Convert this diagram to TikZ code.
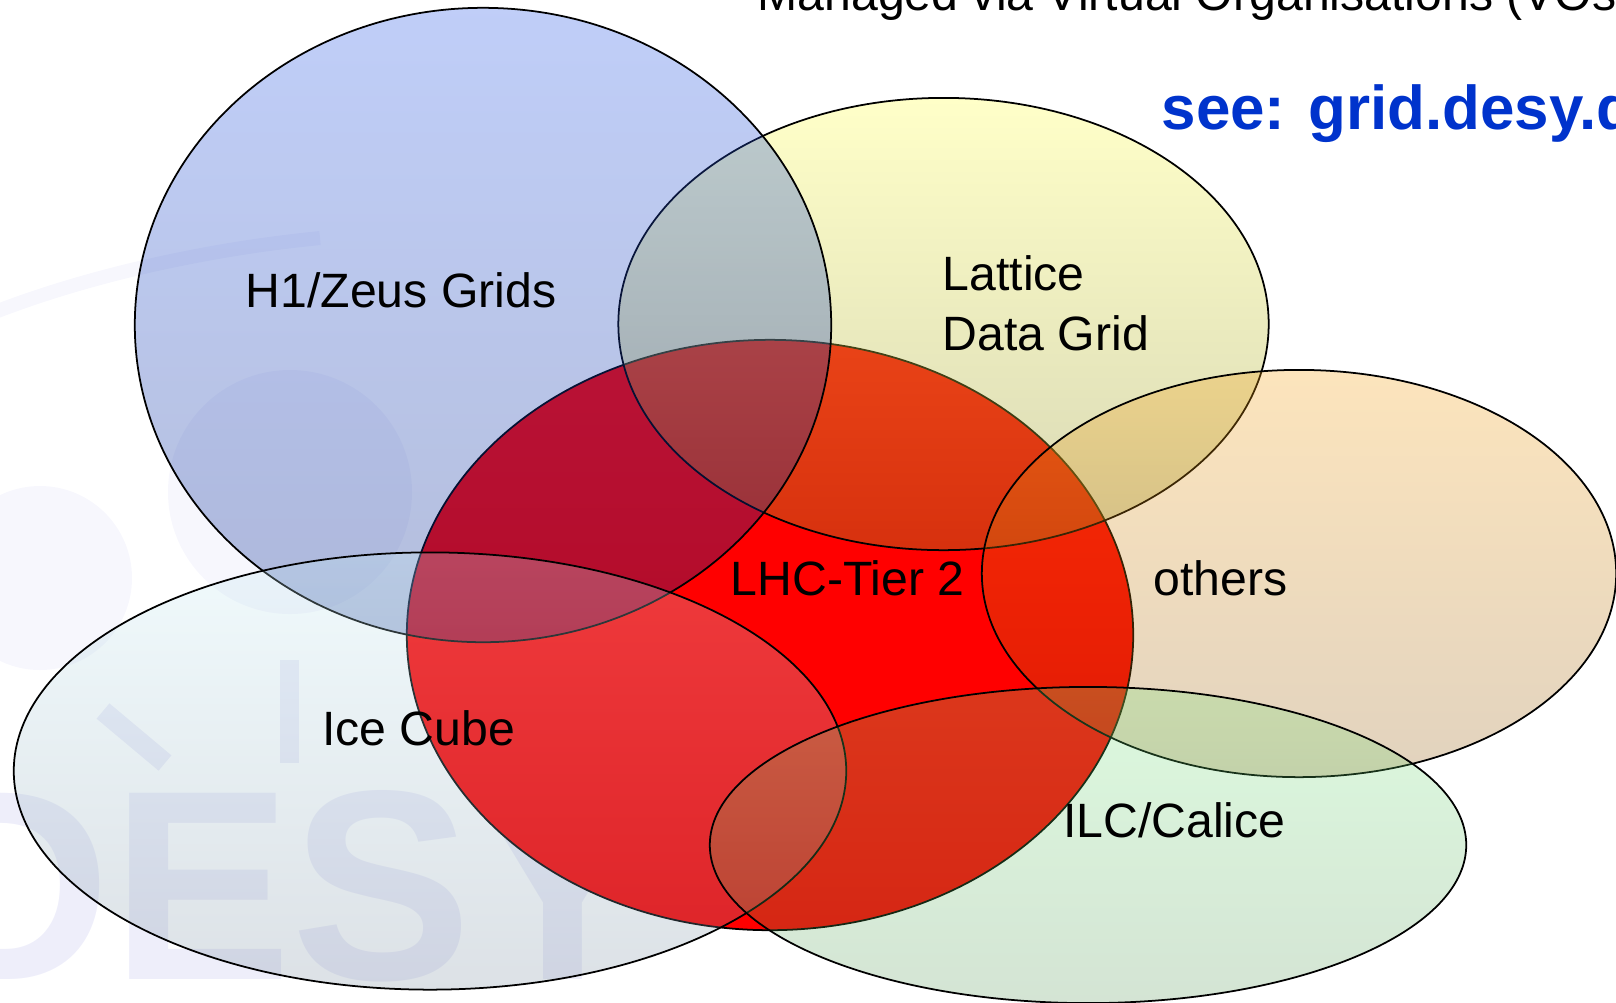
\documentclass[tikz,border=0pt]{standalone}
\usepackage{fontspec}
\setmainfont{Liberation Sans}
\usetikzlibrary{shapes.geometric, positioning}
\definecolor{h1top}{RGB}{45,92,232}
\definecolor{h1bot}{RGB}{5,38,138}
\definecolor{lattop}{RGB}{255,255,98}
\definecolor{latbot}{RGB}{141,141,41}
\definecolor{othtop}{RGB}{245,159,15}
\definecolor{othbot}{RGB}{148,95,23}
\definecolor{icetop}{RGB}{196,236,244}
\definecolor{icebot}{RGB}{116,136,156}
\definecolor{ilctop}{RGB}{109,233,117}
\definecolor{ilcbot}{RGB}{75,142,75}
\definecolor{desyblue}{RGB}{0,51,204}
\definecolor{logo}{RGB}{238,238,250}
\definecolor{logofaint}{RGB}{247,247,253}
\tikzset{
  venn/.style={
    ellipse,
    draw=black,
    line width=0.5pt,
    inner sep=0pt
  },
  lhcset/.style={venn, fill=red},
  h1set/.style={venn, top color=h1top, bottom color=h1bot, fill opacity=0.3},
  latset/.style={venn, top color=lattop, bottom color=latbot, fill opacity=0.35},
  othset/.style={venn, top color=othtop, bottom color=othbot, fill opacity=0.28},
  iceset/.style={venn, top color=icetop, bottom color=icebot, fill opacity=0.25},
  ilcset/.style={venn, top color=ilctop, bottom color=ilcbot, fill opacity=0.24},
  setname/.style={
    font=\fontsize{13.7}{16.8}\selectfont,
    inner sep=0pt,
    anchor=base west,
    align=left
  },
  logotext/.style={
    font=\bfseries\fontsize{77}{77}\selectfont,
    text=logo,
    inner sep=0pt,
    anchor=base west
  }
}

\begin{document}
\begin{tikzpicture}[x=0.01cm, y=-0.01cm]
  \path[use as bounding box, clip] (0,0) rectangle (1616,1002);
  % faint logo behind the sets
  \draw[logofaint, line width=0.14cm] (-20,318) .. controls (60,285) and (180,252) .. (320,238);
  \fill[logofaint] (290,492) circle (122);
  \fill[logofaint] (40,578) circle (92);
  \draw[logo, line width=0.2cm] (103,711) -- (165,763);
  \fill[logo] (280,660) rectangle (299,763);
  \node (desy) [logotext] at (-85,979) {DESY};

  \node (lhc) [lhcset, minimum width=7.26cm, minimum height=5.90cm] at (770,635) {};
  \node (lattice) [latset, minimum width=6.50cm, minimum height=4.52cm] at (943.5,324) {};
  \node (h1) [h1set, minimum width=6.96cm, minimum height=6.34cm] at (483,325) {};
  \node (others) [othset, minimum width=6.34cm, minimum height=4.07cm] at (1299,573.5) {};
  \node (ice) [iceset, minimum width=8.32cm, minimum height=4.37cm] at (430,771) {};
  \node (ilc) [ilcset, minimum width=7.56cm, minimum height=3.16cm] at (1088,845) {};

  \node (h1name) [setname] at (245,307) {H1/Zeus Grids};
  \node (latname) [setname] at (942,350) {Lattice\\Data Grid};
  \node (lhcname) [setname] at (730,595) {LHC-Tier 2};
  \node (othname) [setname] at (1153,595) {others};
  \node (icename) [setname] at (321.5,745) {Ice Cube};
  \node (ilcname) [setname] at (1062.5,837) {ILC/Calice};

  \node (vo) [setname] at (757,10) {Managed via Virtual Organisations (VOs)};
  \node (see) [setname, font=\bfseries\fontsize{17.6}{20}\selectfont, text=desyblue] at (1161,129) {see: grid.desy.de};
\end{tikzpicture}
\end{document}
